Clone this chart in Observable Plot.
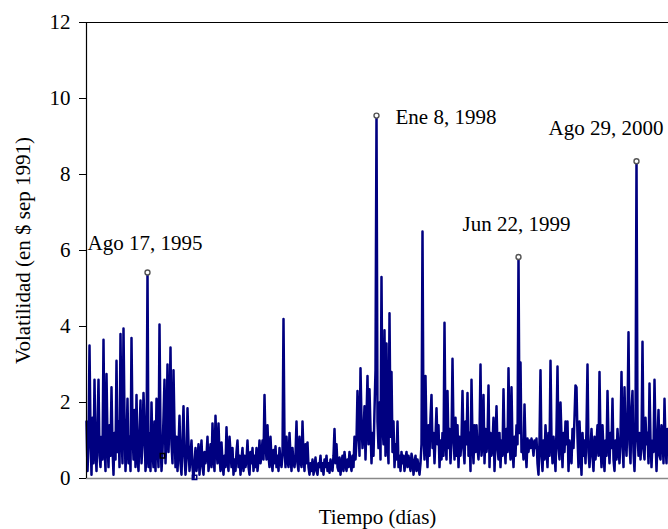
<!DOCTYPE html>
<html>
<head>
<meta charset="utf-8">
<script src="https://cdn.jsdelivr.net/npm/d3@7"></script>
<script src="https://cdn.jsdelivr.net/npm/@observablehq/plot@0.6"></script>
<style>
  html, body { margin: 0; padding: 0; background: #fff; }
  #chart svg, #chart svg text { font-family: "Liberation Serif", "Times New Roman", Times, serif !important; }
</style>
</head>
<body>
<div id="chart"></div>
<script>
const volatilidad = [
  1.5, 0.2, 0.9, 3.5, 1.2, 0.1, 1.6, 0.4, 2.6, 0.8,
  0.2, 1.3, 2.6, 0.6, 0.3, 1.1, 0.5, 3.65, 0.9, 0.2,
  2.75, 1.0, 0.3, 1.4, 0.6, 2.4, 0.8, 0.1, 1.2, 0.5,
  3.1, 0.7, 1.5, 0.3, 3.8, 1.2, 0.4, 3.95, 1.6, 0.2,
  0.9, 2.1, 0.4, 1.1, 0.2, 3.7, 1.3, 0.5, 1.8, 0.3,
  2.2, 0.6, 0.2, 1.2, 2.05, 0.4, 0.9, 2.25, 1.4, 0.2,
  0.6, 5.42, 0.3, 1.2, 0.2, 2.0, 0.7, 0.3, 1.5, 0.2,
  2.1, 0.9, 0.3, 4.05, 1.1, 0.2, 0.7, 1.6, 2.6, 0.4,
  1.2, 3.0, 0.7, 1.5, 3.45, 0.9, 0.4, 2.85, 1.3, 0.3,
  1.1, 0.2, 0.8, 1.65, 0.4, 0.1, 1.0, 1.9, 0.6, 0.1,
  0.5, 1.85, 0.9, 0.2, 0.6, 1.0, 0.3, 0.0, 0.4, 0.8,
  0.2, 0.5, 0.9, 0.1, 0.6, 1.0, 0.3, 0.1, 0.7, 0.4,
  0.6, 1.1, 0.2, 0.5, 0.9, 0.3, 1.45, 0.6, 0.2, 1.65,
  0.8, 0.4, 1.45, 0.6, 0.2, 0.95, 0.4, 0.1, 0.6, 0.3,
  1.35, 0.5, 0.2, 1.1, 0.7, 0.3, 0.8, 0.1, 0.5, 0.2,
  0.7, 1.0, 0.3, 0.6, 0.1, 0.5, 0.8, 0.2, 0.6, 0.3,
  0.5, 1.0, 0.3, 0.1, 0.7, 0.4, 0.8, 0.2, 0.6, 0.3,
  0.8, 0.2, 0.5, 1.0, 0.4, 0.6, 1.0, 0.5, 2.2, 0.9,
  0.5, 1.4, 0.6, 0.3, 1.1, 0.5, 0.2, 0.75, 0.4, 0.85,
  0.3, 0.6, 0.2, 0.8, 0.5, 0.3, 0.6, 4.2, 0.9, 0.3,
  1.1, 0.5, 0.3, 1.2, 0.6, 0.2, 0.8, 0.4, 0.3, 0.6,
  1.5, 0.4, 0.2, 1.1, 0.5, 0.3, 1.5, 0.6, 0.2, 0.9,
  0.4, 0.95, 0.3, 0.1, 0.4, 0.2, 0.5, 0.1, 0.3, 0.55,
  0.2, 0.1, 0.4, 0.3, 0.6, 0.2, 0.4, 0.1, 0.5, 0.3,
  0.6, 0.2, 0.4, 0.15, 0.5, 0.3, 0.2, 0.6, 1.3, 0.4,
  0.9, 0.3, 0.2, 0.55, 0.1, 0.4, 0.6, 0.2, 0.7, 0.4,
  0.2, 0.5, 0.3, 0.7, 0.4, 0.2, 0.6, 0.3, 1.1, 0.5,
  1.0, 2.3, 1.4, 0.6, 2.9, 1.5, 0.8, 1.2, 1.9, 0.5,
  1.6, 2.7, 0.9, 2.35, 1.3, 0.4, 1.2, 0.6, 1.8, 2.85,
  9.55, 1.5, 0.8, 2.0, 0.5, 5.3, 1.4, 0.9, 3.9, 0.6,
  3.55, 1.0, 0.4, 4.35, 1.1, 2.8, 0.7, 1.5, 0.3, 0.9,
  0.5, 1.5, 0.3, 0.6, 0.2, 0.7, 0.4, 0.6, 0.2, 0.5,
  0.7, 0.3, 0.6, 0.4, 0.2, 0.65, 0.5, 0.1, 0.4, 0.6,
  0.2, 0.5, 0.3, 0.1, 0.4, 0.9, 6.5, 1.2, 0.5, 2.7,
  1.0, 0.3, 1.4, 0.6, 1.6, 2.2, 0.8, 1.2, 0.4, 1.1,
  1.85, 0.9, 1.4, 0.3, 1.0, 0.5, 1.2, 0.6, 4.1, 1.0,
  0.5, 2.3, 0.8, 1.3, 0.4, 1.0, 3.15, 1.2, 0.5, 1.6,
  0.6, 1.4, 0.3, 1.1, 0.6, 1.0, 2.3, 0.8, 0.4, 1.5,
  0.9, 2.25, 0.6, 1.2, 0.2, 2.6, 1.0, 0.4, 1.4, 0.7,
  1.4, 0.8, 0.5, 1.1, 3.0, 0.6, 0.9, 2.2, 0.4, 1.3,
  0.7, 1.0, 2.45, 0.3, 1.2, 0.6, 0.9, 1.6, 0.2, 1.0,
  1.9, 0.8, 0.5, 1.2, 0.3, 1.0, 0.6, 2.35, 0.9, 0.4,
  1.3, 0.7, 2.9, 1.0, 0.5, 2.4, 0.8, 0.3, 1.1, 0.6,
  1.4, 0.9, 5.83, 1.2, 3.05, 0.7, 1.0, 0.5, 1.95, 0.8,
  0.3, 1.05, 0.7, 1.0, 0.8, 1.05, 0.9, 0.6, 1.0, 0.8,
  1.05, 0.4, 0.1, 1.0, 2.85, 0.6, 0.2, 1.0, 0.5, 1.4,
  0.8, 0.3, 1.2, 0.6, 3.1, 1.0, 0.4, 1.1, 0.7, 0.2,
  1.3, 2.95, 0.8, 0.5, 2.0, 1.1, 0.3, 1.2, 0.7, 1.5,
  0.9, 1.5, 0.2, 1.0, 0.6, 0.4, 1.3, 0.8, 1.6, 2.45,
  2.4, 1.1, 0.3, 1.5, 0.8, 0.1, 1.2, 0.6, 1.0, 0.4,
  1.3, 3.0, 0.7, 0.3, 0.8, 1.3, 0.6, 0.2, 1.1, 0.5,
  0.9, 1.4, 0.6, 2.8, 0.9, 0.3, 1.4, 0.7, 0.2, 1.0,
  0.6, 2.3, 1.0, 0.4, 1.2, 0.8, 2.1, 0.5, 0.2, 1.0,
  0.5, 1.3, 0.8, 0.4, 1.1, 2.8, 0.9, 0.3, 2.4, 1.2,
  0.6, 1.5, 3.85, 0.9, 0.4, 1.8, 2.3, 0.7, 0.2, 1.1,
  8.35, 1.2, 0.6, 1.2, 0.5, 1.0, 3.6, 0.8, 0.5, 1.6,
  0.9, 1.2, 0.4, 2.5, 1.0, 0.3, 1.0, 0.7, 2.6, 1.1,
  0.2, 1.0, 1.8, 0.6, 0.5, 1.4, 1.2, 0.4, 2.1, 0.9,
  0.4, 1.3, 0.8
];

// Picos anotados: índice del día y etiqueta
const picosDia = [61, 290, 432, 550];
const picosEtiqueta = ["Ago 17, 1995", "Ene 8, 1998", "Jun 22, 1999", "Ago 29, 2000"];

// Marcadores sueltos del gráfico original
const marcasDia = [76, 108];
const marcasValor = [0.6, 0.03];
const marcasColor = ["#000000", "#000080"];

const yTicks = [0, 2, 4, 6, 8, 10, 12];
const tituloY = "Volatilidad (en $ sep 1991)";
const tituloX = "Tiempo (días)";

const serie = volatilidad.map((v, i) => ({dia: i, v}));
const picos = picosDia.map((d, k) => ({dia: d, v: volatilidad[d], label: picosEtiqueta[k]}));
const marcas = marcasDia.map((d, k) => ({dia: d, v: marcasValor[k], c: marcasColor[k]}));

const font = "Liberation Serif";
const fs = 21;

const offsets = [
  {dx: -60, dy: -29},
  {dx: 19, dy: 2},
  {dx: -56, dy: -33},
  {dx: -88, dy: -33}
];

const chart = Plot.plot({
  width: 668,
  height: 529,
  marginLeft: 86,
  marginRight: 0,
  marginTop: 22,
  marginBottom: 51,
  style: {fontSize: fs + "px", color: "#000", background: "#fff"},
  x: {domain: [0, volatilidad.length - 1], axis: null},
  y: {domain: [0, 12]},
  marks: [
    Plot.axisY({ticks: yTicks, tickSize: 7, tickPadding: 9, label: null, fontSize: fs, fontFamily: font, tickFormat: d => d}),
    Plot.ruleY([12], {stroke: "#000", strokeWidth: 1.2}),
    Plot.ruleY([0], {stroke: "#888", strokeWidth: 1.5}),
    Plot.line(serie, {x: "dia", y: "v", stroke: "#000080", strokeWidth: 2.5}),
    Plot.ruleX([0], {stroke: "#000", strokeWidth: 1.2}),
    Plot.dot(marcas, {x: "dia", y: "v", symbol: "square", r: 2.5, stroke: "c", fill: "none", strokeWidth: 1.5}),
    Plot.dot(picos, {x: "dia", y: "v", r: 2.5, stroke: "#555", fill: "#fff", strokeWidth: 1.4}),
    ...picos.map((p, k) => Plot.text([p], {
      x: "dia", y: "v", text: "label", textAnchor: "start",
      dx: offsets[k].dx, dy: offsets[k].dy, fontSize: fs, fontFamily: font, fill: "#000"
    })),
    Plot.text([tituloY], {frameAnchor: "left", textAnchor: "middle", lineAnchor: "middle", text: d => d, rotate: -90, dx: -63, fontSize: fs, fontFamily: font, fill: "#000"}),
    Plot.text([tituloX], {frameAnchor: "bottom", textAnchor: "middle", lineAnchor: "middle", text: d => d, dy: 39, fontSize: fs, fontFamily: font, fill: "#000"})
  ]
});

document.getElementById("chart").appendChild(chart);
</script>
</body>
</html>
